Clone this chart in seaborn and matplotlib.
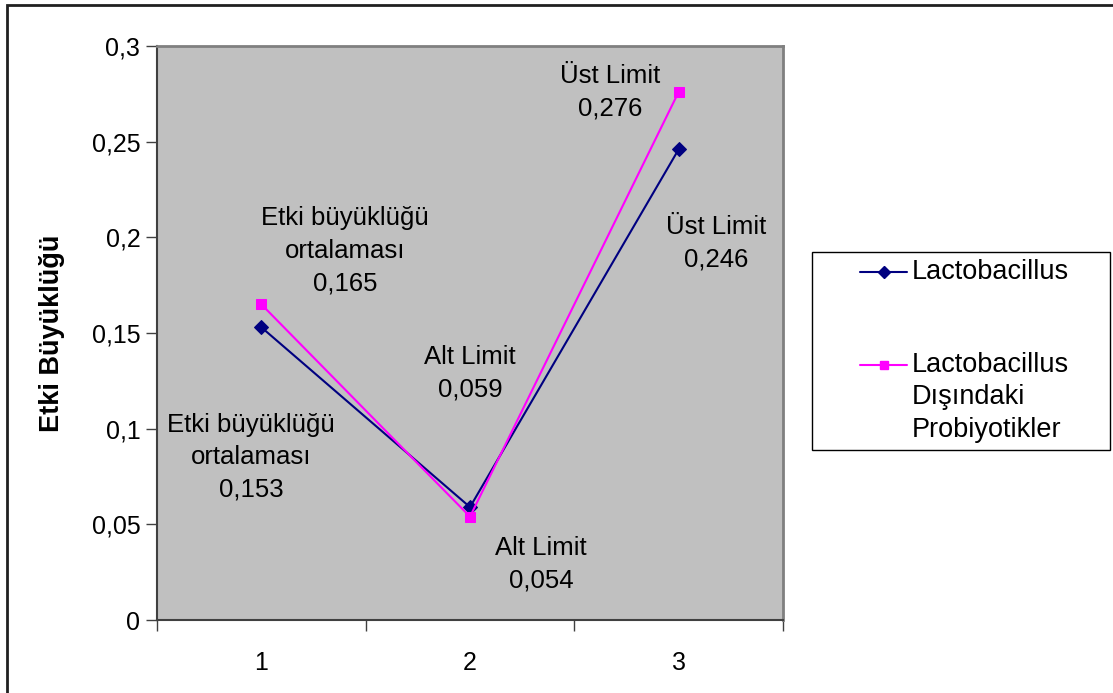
import matplotlib
matplotlib.use("Agg")
import matplotlib.pyplot as plt
from matplotlib.lines import Line2D
from matplotlib.patches import Rectangle
import pandas as pd
import seaborn as sns

# Category positions and their tick labels
categories = [0, 1, 2]
category_labels = ["1", "2", "3"]

# Effect size values per group
lacto_values = [0.153, 0.059, 0.246]
other_values = [0.165, 0.054, 0.276]

series_names = ["Lactobacillus", "Lactobacillus\nDışındaki\nProbiyotikler"]

# Titles placed above each point's value
lacto_titles = ["Etki büyüklüğü\nortalaması", "Alt Limit", "Üst Limit"]
other_titles = ["Etki büyüklüğü\nortalaması", "Alt Limit", "Üst Limit"]

y_ticks = [0, 0.05, 0.1, 0.15, 0.2, 0.25, 0.3]
y_tick_labels = ["0", "0,05", "0,1", "0,15", "0,2", "0,25", "0,3"]

sns.set_theme(style="white")
plt.rcParams["font.family"] = ["Liberation Sans", "DejaVu Sans"]
for key in ["text.color", "axes.labelcolor", "xtick.labelcolor", "ytick.labelcolor"]:
    plt.rcParams[key] = "black"

TICK_FS = 18
NOTE_FS = 18.5
LEG_FS = 19.5

fig = plt.figure(figsize=(11.13, 6.93), dpi=100)
ax = fig.add_axes([157 / 1113, 1 - 620 / 693, (783 - 157) / 1113, (620 - 46) / 693])
ax.set_facecolor("#C0C0C0")

df = pd.DataFrame({
    "x": categories * 2,
    "y": lacto_values + other_values,
    "group": [series_names[0]] * 3 + [series_names[1]] * 3,
})

sns.lineplot(data=df[df.group == series_names[0]], x="x", y="y", ax=ax,
             color="#000080", lw=1.5, marker="D", markersize=7,
             markeredgecolor="#000080", legend=False)
sns.lineplot(data=df[df.group == series_names[1]], x="x", y="y", ax=ax,
             color="#FF00FF", lw=1.5, marker="s", markersize=7,
             markeredgecolor="#FF00FF", legend=False)

ax.set_xlim(-0.5, 2.5)
ax.set_ylim(0, 0.3)

# Y axis
ax.set_yticks(y_ticks)
ax.set_yticklabels(y_tick_labels, fontsize=TICK_FS)
ax.tick_params(axis="y", direction="out", length=8, width=1, color="#404040",
               left=True, pad=4)

# X axis: tick marks between categories, labels centred on categories
ax.set_xticks([-0.5, 0.5, 1.5, 2.5])
ax.set_xticklabels([])
ax.tick_params(axis="x", which="major", direction="out", length=8, width=1,
               color="#404040", bottom=True)
ax.set_xticks(categories, minor=True)
ax.set_xticklabels(category_labels, minor=True, fontsize=TICK_FS)
ax.tick_params(axis="x", which="minor", length=0, pad=22)

ax.set_xlabel("")
ax.set_ylabel("Etki Büyüklüğü", fontsize=LEG_FS, fontweight="bold", labelpad=19)

for side in ["left", "bottom"]:
    ax.spines[side].set_color("#404040")
    ax.spines[side].set_linewidth(1.5)
for side in ["top", "right"]:
    ax.spines[side].set_color("#808080")
    ax.spines[side].set_linewidth(2)

# Value annotations
text_kw = dict(fontsize=NOTE_FS, ha="center", va="center", linespacing=1.45)
lacto_offsets = [(-0.05, -0.068), (0.0, 0.07), (0.18, -0.049)]
other_offsets = [(0.4, 0.028), (0.34, -0.025), (-0.33, 0.0)]
for i, (dx, dy) in enumerate(lacto_offsets):
    v = lacto_values[i]
    ax.text(categories[i] + dx, v + dy,
            f"{lacto_titles[i]}\n{v:.3f}".replace(".", ","), **text_kw)
for i, (dx, dy) in enumerate(other_offsets):
    v = other_values[i]
    ax.text(categories[i] + dx, v + dy,
            f"{other_titles[i]}\n{v:.3f}".replace(".", ","), **text_kw)

# Legend box
fig.patches.append(Rectangle((812 / 1113, 1 - 450 / 693), (1110 - 812) / 1113,
                             (450 - 252) / 693, transform=fig.transFigure,
                             facecolor="white", edgecolor="black", lw=1))
legend_rows = [(272, "#000080", "D", 6, [series_names[0]]),
               (365, "#FF00FF", "s", 6, series_names[1].split("\n"))]
for ypx, col, mk, ms, lines in legend_rows:
    yf = 1 - ypx / 693
    fig.add_artist(Line2D([860 / 1113, 907 / 1113], [yf, yf],
                          transform=fig.transFigure, color=col, lw=1.5))
    fig.add_artist(Line2D([883.5 / 1113], [yf], transform=fig.transFigure,
                          color=col, marker=mk, markersize=ms, lw=0))
    for k, line in enumerate(lines):
        fig.text(912 / 1113, 1 - (ypx + k * 32.5) / 693, line, fontsize=LEG_FS,
                 ha="left", va="center")

# Outer frame
fig.patches.append(Rectangle((7 / 1113, -0.01), 1.02, 1 - 5 / 693 + 0.01,
                             transform=fig.transFigure, fill=False,
                             edgecolor="#202020", lw=2))

fig.savefig("out.png", dpi=100, facecolor="white")
